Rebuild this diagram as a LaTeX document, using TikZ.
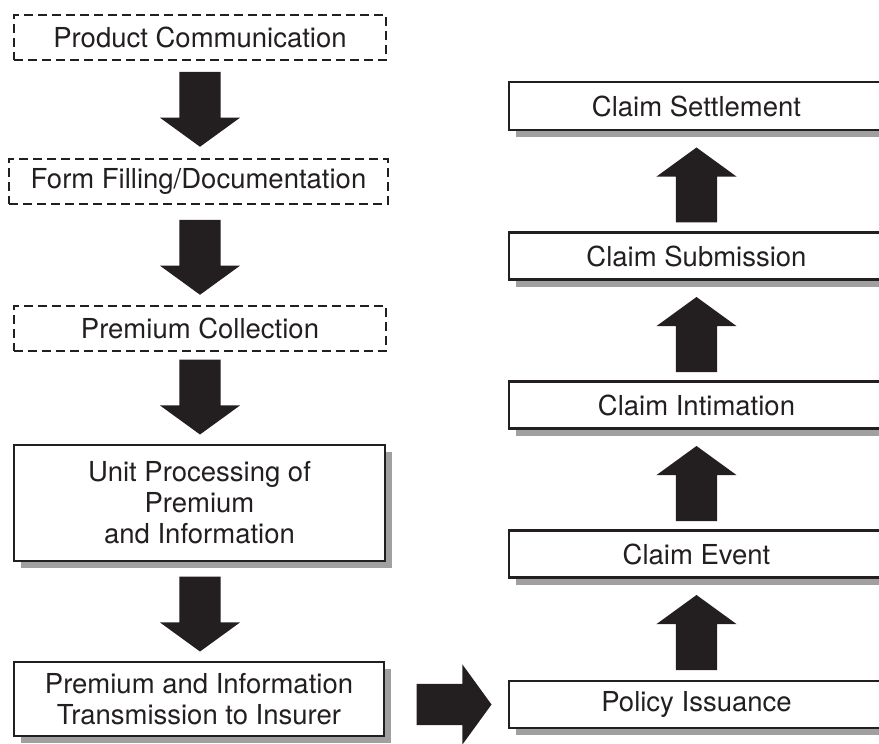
\documentclass[tikz,border=0pt]{standalone}
\usepackage{fontspec}
\setmainfont{TeX Gyre Heros}
\usetikzlibrary{shapes.arrows,shadows}
\definecolor{ink}{HTML}{231F20}
\definecolor{shade}{HTML}{A0A0A0}
\begin{document}
\begin{tikzpicture}[x=1pt,y=-1pt,
  every node/.style={font=\fontsize{27.5}{31}\selectfont, text=ink},
  planbox/.style={rectangle, draw=ink, line width=2pt, dash pattern=on 9pt off 5pt,
    fill=white, inner sep=0pt, align=center, minimum height=45pt},
  stagebox/.style={rectangle, draw=ink, line width=2.5pt, fill=white, inner sep=0pt,
    align=center, drop shadow={shadow xshift=7pt, shadow yshift=-7pt, fill=shade, opacity=1}},
  claimbox/.style={stagebox, minimum width=375pt, minimum height=47pt},
  blockarrow/.style={single arrow, fill=ink, draw=none, inner xsep=0pt, inner ysep=20.5pt,
    minimum height=75pt, single arrow head extend=19.5pt,
    single arrow tip angle=108, anchor=tip},
]
\useasboundingbox (0,0) rectangle (879,744);
\clip (0,0) rectangle (879,744);

% left column: sales and premium handling
\node[planbox, minimum width=372pt] (comm) at (200,37.5) {Product Communication};
\node[planbox, minimum width=379pt] (form) at (198.5,181.5) {Form Filling/Documentation};
\node[planbox, minimum width=372pt] (coll) at (200,328.5) {Premium Collection};
\node[stagebox, minimum width=371pt, minimum height=116pt] (unit) at (199.5,503)
  {Unit Processing of\\Premium\\and Information};
\node[stagebox, minimum width=370pt, minimum height=74pt] (trans) at (199,699)
  {Premium and Information\\Transmission to Insurer};

% right column: policy and claim stages
\node[claimbox, minimum height=48pt] (settle) at (696.5,106) {Claim Settlement};
\node[claimbox] (submit) at (696.5,256) {Claim Submission};
\node[claimbox] (intim) at (696.5,405) {Claim Intimation};
\node[claimbox] (event) at (696.5,554) {Claim Event};
\node[claimbox] (issue) at (696.5,704.5) {Policy Issuance};

% downward block arrows, tip set just above the next stage
\node[blockarrow, rotate=-90] (d1) at ([yshift=11pt]comm.south |- form.north) {};
\node[blockarrow, rotate=-90] (d2) at ([yshift=10pt]comm.south |- coll.north) {};
\node[blockarrow, rotate=-90] (d3) at ([yshift=9pt]comm.south |- unit.north) {};
\node[blockarrow, rotate=-90] (d4) at ([yshift=9pt]comm.south |- trans.north) {};

% transfer to the insurer
\node[blockarrow] (h1) at ([xshift=-16pt]issue.west) {};

% upward block arrows, tip set just below the next stage
\node[blockarrow, rotate=90] (u1) at ([yshift=-16pt]event.south) {};
\node[blockarrow, rotate=90] (u2) at ([yshift=-16pt]intim.south) {};
\node[blockarrow, rotate=90] (u3) at ([yshift=-16pt]submit.south) {};
\node[blockarrow, rotate=90] (u4) at ([yshift=-16pt]settle.south) {};
\end{tikzpicture}
\end{document}
